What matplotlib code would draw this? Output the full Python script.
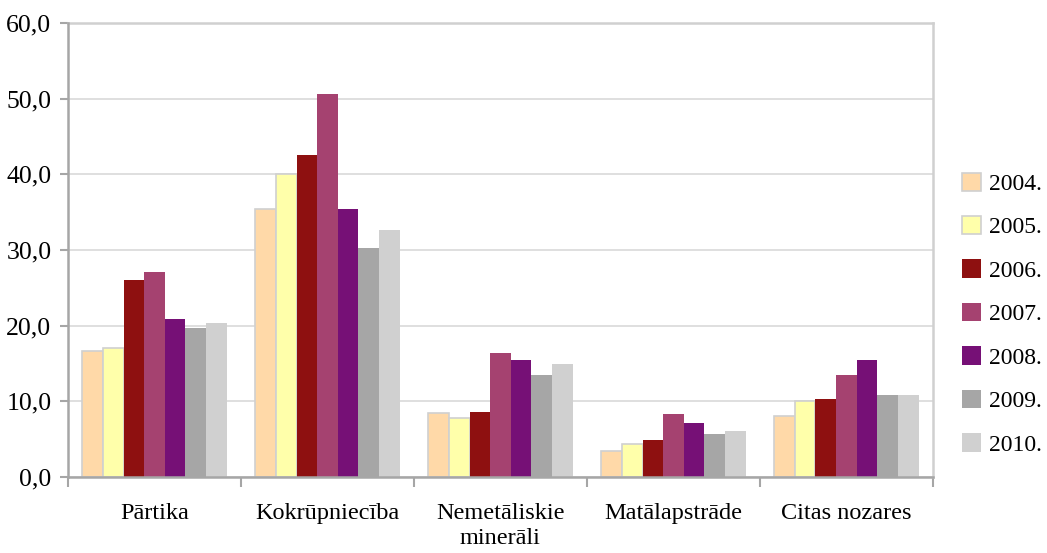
import matplotlib
matplotlib.use("Agg")
import matplotlib.pyplot as plt
import numpy as np
from matplotlib.ticker import FuncFormatter, MultipleLocator

nozares = ["Pārtika", "Kokrūpniecība", "Nemetāliskie\nminerāli", "Matālapstrāde", "Citas nozares"]
gadi = ["2004.", "2005.", "2006.", "2007.", "2008.", "2009.", "2010."]

v2004 = [16.7, 35.4, 8.5, 3.4, 8.1]
v2005 = [17.0, 40.0, 7.8, 4.4, 10.0]
v2006 = [26.0, 42.6, 8.6, 4.9, 10.3]
v2007 = [27.1, 50.6, 16.4, 8.3, 13.5]
v2008 = [20.9, 35.4, 15.5, 7.1, 15.5]
v2009 = [19.7, 30.3, 13.5, 5.7, 10.8]
v2010 = [20.4, 32.6, 14.9, 6.1, 10.8]
vertibas = [v2004, v2005, v2006, v2007, v2008, v2009, v2010]

krasas = ["#FFD9A8", "#FFFFAA", "#8E1010", "#A54270", "#761076", "#A6A6A6", "#D0D0D0"]
malas = ["#D0D0D0", "#D0D0D0", "none", "none", "none", "none", "none"]

plt.rcParams["font.family"] = ["Liberation Serif", "DejaVu Serif"]

fig = plt.figure(figsize=(10.47, 5.53), dpi=100)
ax = fig.add_axes([0.065, 0.1374, 0.826, 0.8210])

x = np.arange(len(nozares))
plats = 0.834 / len(gadi)
for i, gads in enumerate(gadi):
    nobide = (i - (len(gadi) - 1) / 2) * plats
    ax.bar(x + nobide, vertibas[i], width=plats, color=krasas[i],
           edgecolor=malas[i], linewidth=1.2, label=gads, zorder=3)

ax.set_xlim(-0.5, len(nozares) - 0.5)
ax.set_ylim(0, 60)
ax.yaxis.set_major_locator(MultipleLocator(10))
ax.yaxis.set_major_formatter(FuncFormatter(lambda v, p: f"{v:.1f}".replace(".", ",")))
ax.grid(axis="y", color="#D9D9D9", linewidth=1.2, zorder=0)

ax.set_xticks(x)
ax.set_xticklabels(nozares)
ax.set_xticks(np.arange(-0.5, len(nozares)), minor=True)
ax.tick_params(axis="x", which="major", length=0, pad=19, labelsize=17.5)
ax.tick_params(axis="x", which="minor", length=7, width=1.5, color="#A6A6A6")
ax.tick_params(axis="y", length=6, width=1.5, color="#A6A6A6", pad=6, labelsize=18.5)

for s in ["left", "bottom"]:
    ax.spines[s].set_color("#A6A6A6")
    ax.spines[s].set_linewidth(1.8)
    ax.spines[s].set_zorder(5)
for s in ["top", "right"]:
    ax.spines[s].set_color("#D0D0D0")
    ax.spines[s].set_linewidth(1.8)

fig.legend(loc="center left", bbox_to_anchor=(0.9185, 0.432), frameon=False,
           fontsize=17, handlelength=0.8, handleheight=0.8, handletextpad=0.35,
           labelspacing=0.9, borderpad=0, borderaxespad=0)

fig.savefig("out.png", dpi=100)
